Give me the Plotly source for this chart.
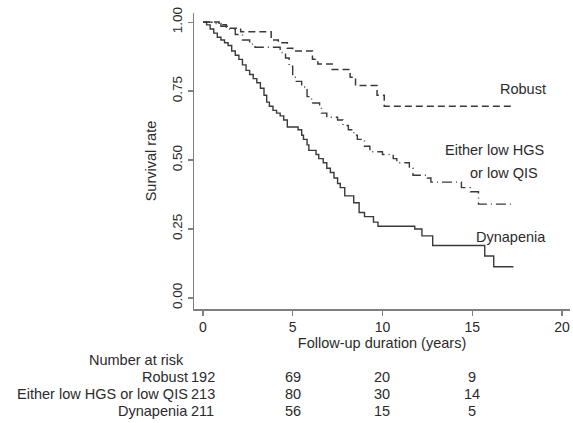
import plotly.graph_objects as go

# ---- data ----
robust_t = [0, 0.9, 1.3, 2.1, 3.8, 4.2, 4.7, 5.0, 6.1, 6.4, 7.2, 8.2, 8.5, 9.7, 10.1, 17.2]
robust_s = [1.0, 0.99, 0.978, 0.965, 0.935, 0.925, 0.905, 0.895, 0.865, 0.848, 0.828, 0.80, 0.77, 0.735, 0.695, 0.695]

either_t = [0, 0.5, 1.0, 1.4, 1.8, 2.2, 2.6, 2.9, 4.3, 4.6, 4.8, 5.0, 5.2, 5.5, 5.8, 6.05, 6.5, 6.6,
            6.9, 7.5, 7.8, 8.1, 8.4, 8.6, 9.0, 9.3, 10.0, 10.6, 10.8, 11.5, 11.7, 12.5, 12.7, 14.4,
            14.9, 15.35, 17.3]
either_s = [1.0, 0.995, 0.985, 0.975, 0.955, 0.935, 0.92, 0.909, 0.89, 0.87, 0.84, 0.80, 0.785, 0.765,
            0.73, 0.707, 0.70, 0.67, 0.655, 0.645, 0.625, 0.61, 0.59, 0.575, 0.55, 0.53, 0.52, 0.505,
            0.49, 0.47, 0.445, 0.435, 0.42, 0.40, 0.385, 0.34, 0.34]

dyn_t = [0, 0.2, 0.4, 0.6, 0.8, 1.0, 1.2, 1.4, 1.6, 1.8, 2.0, 2.2, 2.4, 2.6, 2.8, 3.0, 3.2, 3.4, 3.55,
         3.7, 3.9, 4.1, 4.3, 4.5, 4.7, 5.3, 5.5, 5.6, 5.8, 5.9, 6.3, 6.45, 6.7, 6.9, 7.1, 7.3, 7.5,
         7.65, 7.9, 8.4, 8.7, 9.0, 9.5, 9.75, 11.8, 12.2, 12.8, 15.7, 16.2, 17.3]
dyn_s = [1.0, 0.99, 0.975, 0.96, 0.945, 0.935, 0.925, 0.915, 0.895, 0.88, 0.865, 0.845, 0.825, 0.81,
         0.795, 0.78, 0.76, 0.735, 0.71, 0.695, 0.68, 0.67, 0.66, 0.645, 0.62, 0.61, 0.59, 0.575,
         0.555, 0.535, 0.52, 0.505, 0.49, 0.47, 0.455, 0.435, 0.415, 0.40, 0.37, 0.345, 0.31, 0.295,
         0.275, 0.26, 0.25, 0.225, 0.19, 0.152, 0.113, 0.113]

x_ticks = [0, 5, 10, 15, 20]
y_ticks = [0.0, 0.25, 0.5, 0.75, 1.0]
y_ticklabels = ["0.00", "0.25", "0.50", "0.75", "1.00"]

risk_times = [0, 5, 10, 15]
risk_groups = ["Robust", "Either low HGS or low QIS", "Dynapenia"]
risk_robust = [192, 69, 20, 9]
risk_either = [213, 80, 30, 14]
risk_dyn = [211, 56, 15, 5]

# ---- figure ----
W, H = 573, 423
L, R, T, B = 194, 3, 13, 423 - 309
plot_h = H - T - B
plot_w = W - L - R
FONT = "Arial, Liberation Sans, sans-serif"
TXT = "#2b2b2b"
LINE = "#3a3a3a"
AX = "#808080"
FS = 14.5
TFS = 13.5

fig = go.Figure()
fig.add_trace(go.Scatter(x=robust_t, y=robust_s, mode="lines", name="Robust",
                         line=dict(shape="hv", color=LINE, width=1.5, dash="7px,4px")))
fig.add_trace(go.Scatter(x=either_t, y=either_s, mode="lines", name="Either",
                         line=dict(shape="hv", color=LINE, width=1.4, dash="10px,4px,1px,4px")))
fig.add_trace(go.Scatter(x=dyn_t, y=dyn_s, mode="lines", name="Dynapenia",
                         line=dict(shape="hv", color=LINE, width=1.4)))

fig.update_layout(
    width=W, height=H,
    margin=dict(l=L, r=R, t=T, b=B, pad=0, autoexpand=False),
    paper_bgcolor="white", plot_bgcolor="white",
    showlegend=False,
    hovermode=False,
    font=dict(family=FONT, size=14, color=TXT),
    xaxis=dict(range=[-0.5, 20.45], tickvals=x_ticks, showgrid=False, zeroline=False,
               automargin=False,
               showline=True, linecolor=AX, linewidth=1.5, ticks="outside", ticklen=5,
               tickcolor=AX, tickwidth=1.2,
               title=dict(text="Follow-up duration (years)", standoff=0, font=dict(size=FS)),
               tickfont=dict(size=14)),
    yaxis=dict(range=[-0.04, 1.033], tickvals=y_ticks, ticktext=y_ticklabels, tickangle=-90,
               automargin=False,
               showgrid=False, zeroline=False, showline=True, linecolor=AX, linewidth=1.5,
               ticks="outside", ticklen=5, tickcolor=AX, tickwidth=1.2,
               title=dict(text="Survival rate", standoff=10, font=dict(size=FS)),
               tickfont=dict(size=TFS)),
)

def py(ypx):
    return (H - B - ypx) / plot_h

def px(xpx):
    return (xpx - L) / plot_w

# curve labels
labels = [("Robust", 548, 89), ("Either low HGS", 546, 150),
          ("or low QIS", 540, 173), ("Dynapenia", 548, 237)]
for txt, x, y in labels:
    fig.add_annotation(text=txt, xref="paper", yref="paper", x=px(x), y=py(y),
                       xanchor="right", yanchor="middle", showarrow=False,
                       font=dict(size=FS, color=TXT))

# number at risk table
fig.add_annotation(text="Number at risk", xref="paper", yref="paper", x=px(186), y=py(360),
                   xanchor="right", yanchor="middle", showarrow=False, font=dict(size=FS, color=TXT))
row_y = [377, 394, 411]
for name, vals, ry in zip(risk_groups, [risk_robust, risk_either, risk_dyn], row_y):
    fig.add_annotation(text=name, xref="paper", yref="paper", x=px(190), y=py(ry),
                       xanchor="right", yanchor="middle", showarrow=False,
                       font=dict(size=FS, color=TXT))
    for t, v in zip(risk_times, vals):
        fig.add_annotation(text=str(v), xref="x", yref="paper", x=t, y=py(ry),
                           xanchor="center", yanchor="middle", showarrow=False,
                           font=dict(size=FS, color=TXT))

fig.write_html(
    "out.html",
    config={"displayModeBar": False, "staticPlot": True},
    post_script="document.body.style.margin='0';document.body.style.overflow='hidden';",
)
